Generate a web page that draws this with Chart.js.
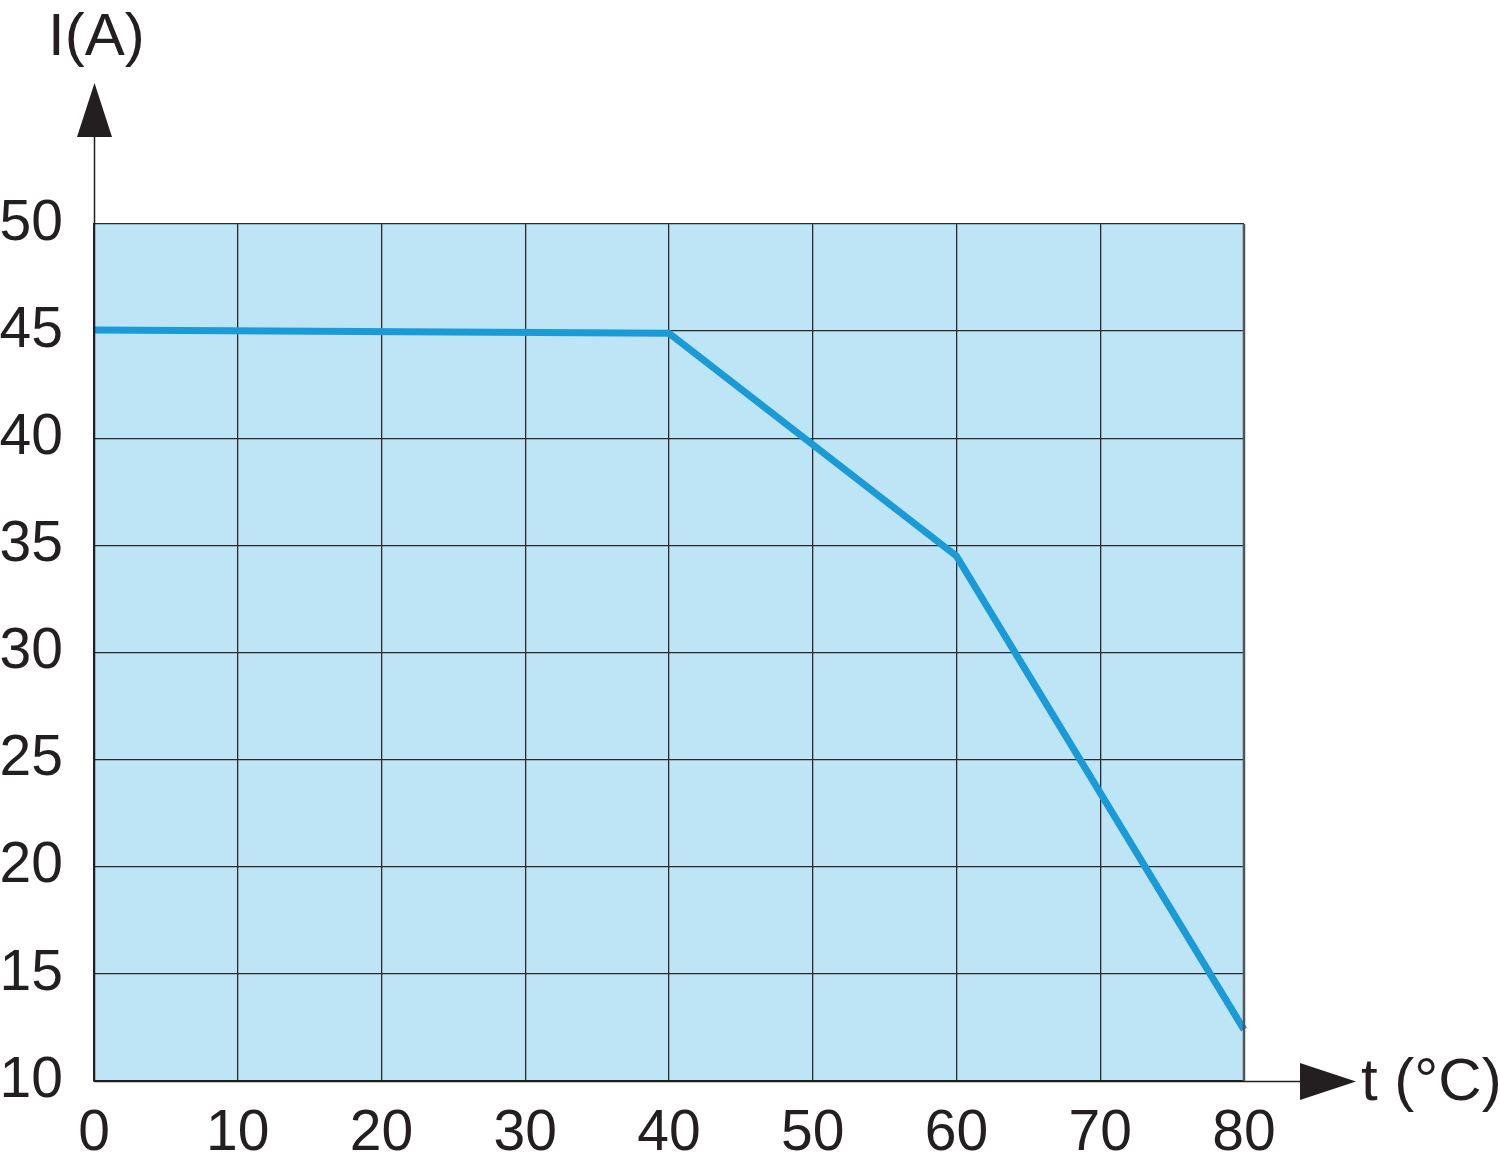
<!DOCTYPE html>
<html>
<head>
<meta charset="utf-8">
<script src="https://cdn.jsdelivr.net/npm/chart.js@4/dist/chart.umd.min.js"></script>
<style>
html,body{margin:0;padding:0;background:#fff;}
#wrap{width:1500px;height:1165px;position:relative;}
</style>
</head>
<body>
<div id="wrap"><canvas id="c" width="1500" height="1165"></canvas></div>
<script>
const temperatures = [0, 40, 60, 80];
const currents = [45.05, 44.9, 34.5, 12.4];
const xTicks = [0, 10, 20, 30, 40, 50, 60, 70, 80];
const yTicks = [10, 15, 20, 25, 30, 35, 40, 45, 50];
const xTitle = 't (°C)';
const yTitle = 'I(A)';

const FONT = '"Liberation Sans", Arial, Helvetica, sans-serif';
const INK = '#231f20';

const decor = {
  id: 'decor',
  beforeDraw(chart) {
    const {ctx, chartArea: a} = chart;
    ctx.save();
    ctx.fillStyle = '#bee5f6';
    ctx.fillRect(a.left, a.top, a.right - a.left, a.bottom - a.top);
    ctx.restore();
  },
  afterDraw(chart) {
    const {ctx, chartArea: a} = chart;
    ctx.save();
    ctx.strokeStyle = INK;
    ctx.fillStyle = INK;
    ctx.lineWidth = 1.5;
    ctx.beginPath();
    ctx.moveTo(a.left + 0.5, a.bottom);
    ctx.lineTo(a.left + 0.5, 135);
    ctx.stroke();
    ctx.beginPath();
    ctx.moveTo(a.left + 0.5, 83);
    ctx.lineTo(a.left - 17, 137);
    ctx.lineTo(a.left + 18, 137);
    ctx.closePath();
    ctx.fill();
    ctx.beginPath();
    ctx.moveTo(a.left, a.bottom + 0.5);
    ctx.lineTo(1302, a.bottom + 0.5);
    ctx.stroke();
    ctx.beginPath();
    ctx.moveTo(1356, a.bottom + 0.5);
    ctx.lineTo(1300, a.bottom - 18);
    ctx.lineTo(1300, a.bottom + 19);
    ctx.closePath();
    ctx.fill();
    ctx.strokeStyle = '#555';
    ctx.lineWidth = 2.5;
    ctx.beginPath();
    ctx.moveTo(a.right, a.top);
    ctx.lineTo(a.right, a.bottom);
    ctx.stroke();
    ctx.font = '60px ' + FONT;
    ctx.textBaseline = 'alphabetic';
    ctx.textAlign = 'left';
    ctx.fillText(yTitle, 48, 55);
    ctx.fillText(xTitle, 1361, 1100);
    ctx.restore();
  }
};

new Chart(document.getElementById('c'), {
  type: 'scatter',
  data: {
    datasets: [{
      data: temperatures.map((t, i) => ({x: t, y: currents[i]})),
      showLine: true,
      borderColor: '#1a9bd7',
      borderWidth: 7,
      pointRadius: 0,
      fill: false,
      tension: 0,
      clip: false
    }]
  },
  options: {
    responsive: false,
    animation: false,
    devicePixelRatio: 1,
    layout: {padding: {top: 224, right: 256, left: 0, bottom: 0}},
    plugins: {legend: {display: false}, tooltip: {enabled: false}},
    scales: {
      x: {
        type: 'linear',
        min: 0, max: 80,
        afterFit(s) { s.height = 84; },
        afterBuildTicks(s) { s.ticks = xTicks.map(v => ({value: v})); },
        grid: {color: '#2a2a2a', lineWidth: 1.3, drawTicks: false},
        border: {display: true, color: INK, width: 1.5},
        ticks: {font: {size: 57, family: FONT}, color: INK, padding: 19, maxRotation: 0, autoSkip: false}
      },
      y: {
        type: 'linear',
        min: 10, max: 50,
        afterFit(s) { s.width = 94; },
        afterBuildTicks(s) { s.ticks = yTicks.map(v => ({value: v})); },
        grid: {color: '#2a2a2a', lineWidth: 1.3, drawTicks: false},
        border: {display: true, color: INK, width: 1.5},
        ticks: {font: {size: 57, family: FONT}, color: INK, padding: 31, autoSkip: false}
      }
    }
  },
  plugins: [decor]
});
</script>
</body>
</html>
